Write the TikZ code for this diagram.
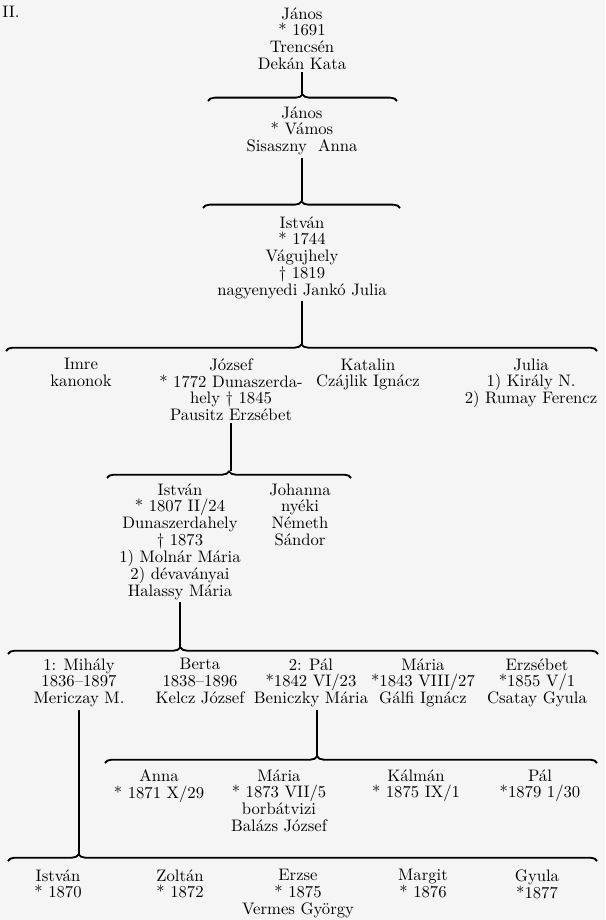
\documentclass[tikz,border=0pt]{standalone}
\usepackage{tikz}
\usetikzlibrary{decorations.pathreplacing}
\definecolor{paper}{gray}{0.96}
\newcommand{\genfont}{\fontsize{10}{10.1}\selectfont}

\begin{document}
\begin{tikzpicture}[
    x=0.6pt, y=-0.6pt,
    person/.style={align=center, inner sep=0pt, outer sep=1.5pt, anchor=north, font=\genfont},
    stem/.style={line width=1.1pt},
    bracket/.style={decorate, decoration={brace, amplitude=4pt, aspect=#1}, line width=1.1pt},
    bracket/.default=0.5
]
\fill[paper] (0,0) rectangle (605,920);
\useasboundingbox (0,0) rectangle (605,920);

\node[font=\genfont] (tabla) at (11,12) {II.};

% Generation 1-3 (single line)
\node[person] (janos1) at (302,5) {János\\{*} 1691\\Trencsén\\Dekán Kata};
\coordinate (t1) at (302,95);
\draw[bracket] (208,101) -- (397,101);
\draw[stem] (janos1) -- (t1);

\node[person] (janos2) at (302,104) {János\\{*} Vámos\\Sisaszny\ \ Anna};
\coordinate (t2) at (302,201);
\draw[bracket] (203,208) -- (400,208);
\draw[stem] (janos2) -- (t2);

\node[person] (istvan1) at (302,214) {István\\{*} 1744\\Vágujhely\\\dag{} 1819\\nagyenyedi Jankó Julia};
\coordinate (t3) at (302,344);
\draw[bracket] (6,351) -- (597,351);
\draw[stem] (istvan1) -- (t3);

% Children of István
\node[person] (imre) at (81,356) {Imre\\kanonok};
\node[person] (jozsef) at (231,356) {József\\{*} 1772 Dunaszerda-\\hely \dag{} 1845\\Pausitz Erzsébet};
\node[person] (katalin) at (368,356) {Katalin\\Czájlik Ignácz};
\node[person] (julia) at (531,356) {Julia\\1) Király N.\\2) Rumay Ferencz};

% Children of József
\coordinate (t4) at (231,471);
\draw[bracket] (107,478) -- (351,478);
\draw[stem] (jozsef) -- (t4);

\node[person] (istvan2) at (180,481) {István\\{*} 1807 II/24\\Dunaszerdahely\\\dag{} 1873\\1) Molnár Mária\\2) dévaványai\\Halassy Mária};
\node[person] (johanna) at (300,481) {Johanna\\nyéki\\Németh\\Sándor};

% Children of István (II)
\coordinate (t5) at (180,647);
\draw[bracket=0.292] (8,654) -- (598,654);
\draw[stem] (istvan2) -- (t5);

\node[person] (mihaly) at (79,656) {1: Mihály\\1836--1897\\Mericzay M.};
\node[person] (berta) at (200,656) {Berta\\1838--1896\\Kelcz József};
\node[person] (pal) at (311,656) {2: Pál\\{*}1842 VI/23\\Beniczky Mária};
\node[person] (maria) at (423,656) {Mária\\{*}1843 VIII/27\\Gálfi Ignácz};
\node[person] (erzsebet) at (537,656) {Erzsébet\\{*}1855 V/1\\Csatay Gyula};

% Children of Pál
\coordinate (t6) at (317,756);
\draw[bracket=0.431] (105,763) -- (597,763);
\draw[stem] (t6 |- pal.south) -- (t6);

\node[person] (anna) at (159,767) {Anna\\{*} 1871 X/29};
\node[person] (maria2) at (279,767) {Mária\\{*} 1873 VII/5\\borbátvizi\\Balázs József};
\node[person] (kalman) at (416,767) {Kálmán\\{*} 1875 IX/1};
\node[person] (pal2) at (540,767) {Pál\\{*}1879 1/30};

% Children of Mihály
\coordinate (t7) at (79,854);
\draw[bracket=0.12] (8,861) -- (597,861);
\draw[stem] (mihaly) -- (t7);

\node[person] (istvan3) at (58,867) {István\\{*} 1870};
\node[person] (zoltan) at (180,867) {Zoltán\\{*} 1872};
\node[person] (erzse) at (298,867) {Erzse\\{*} 1875\\Vermes György};
\node[person] (margit) at (423,867) {Margit\\{*} 1876};
\node[person] (gyula) at (537,867) {Gyula\\{*}1877};

\end{tikzpicture}
\end{document}
